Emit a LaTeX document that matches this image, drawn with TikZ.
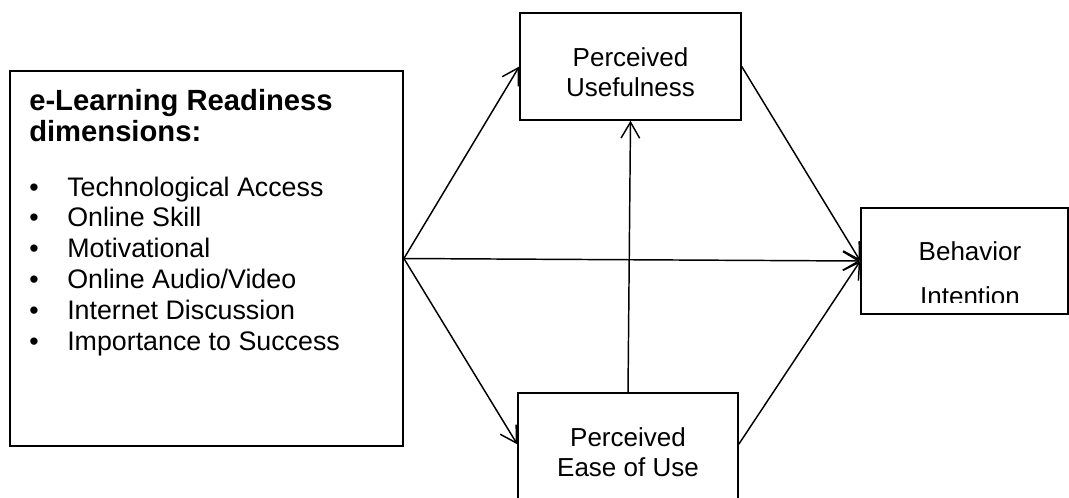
\documentclass[tikz,border=0pt]{standalone}
\usepackage{fontspec}
\setmainfont{Liberation Sans}
\usetikzlibrary{arrows.meta}
\begin{document}
\begin{tikzpicture}[x=0.75pt,y=-0.75pt,
  box/.style={draw,line width=1.1pt,inner sep=0pt},
  boxtext/.style={inner sep=0pt,align=center,font=\fontsize{19.5}{22.5}\selectfont},
  titletext/.style={inner sep=0pt,anchor=base west,font=\fontsize{21.9}{23.25}\selectfont\bfseries},
  itemtext/.style={inner sep=0pt,anchor=base west,font=\fontsize{20.1}{23}\selectfont},
  conn/.style={line width=1.1pt,-{Straight Barb[length=12pt,width=14pt]}}]
\useasboundingbox (0,0) rectangle (1069,497);
\clip (0,0) rectangle (1069,497);
% boxes
\node[box,minimum width=295pt,minimum height=281pt] (elr) at (206.5,258.5) {};
\node[box,minimum width=165.75pt,minimum height=80.25pt] (pu) at (630.5,66.5) {};
\node[box,minimum width=165pt,minimum height=90pt] (peu) at (628,453) {};
\coordinate (peuin) at ([yshift=-39pt]peu.north west);
\node[box,minimum width=155.25pt,minimum height=79.5pt] (bi) at (964.5,261) {};
% left box texts
\node[titletext] (t1) at (29,110) {e-Learning Readiness};
\node[titletext] (t2) at (29,141) {dimensions:};
\foreach \txt [count=\i] in {Technological Access,Online Skill,Motivational,Online Audio/Video,Internet Discussion,Importance to Success}{
  \node[itemtext] (b\i) at (29,{196+30.8*(\i-1)}) {•};
  \node[itemtext] (it\i) at (67,{196+30.8*(\i-1)}) {\txt};
}
% box labels
\node[boxtext] (pulbl) at (630.5,72) {Perceived\\Usefulness};
\node[boxtext] (peulbl) at (628,452) {Perceived\\Ease of Use};
\begin{scope}
  \clip (861,208) rectangle (1068,302);
  \node[boxtext,anchor=base] (bil1) at (970,260) {Behavior};
  \node[boxtext,anchor=base] (bil2) at (970,305) {Intention};
\end{scope}
% connectors
\draw[conn] (elr.east) -- (pu.west);
\draw[conn] (elr.east) -- (bi.west);
\draw[conn] (elr.east) -- (peuin);
\draw[conn] (peu.north) -- (pu.south);
\draw[conn] (pu.east) -- (bi.west);
\draw[conn] (peu.north east |- peuin) -- (bi.west);
\end{tikzpicture}
\end{document}
